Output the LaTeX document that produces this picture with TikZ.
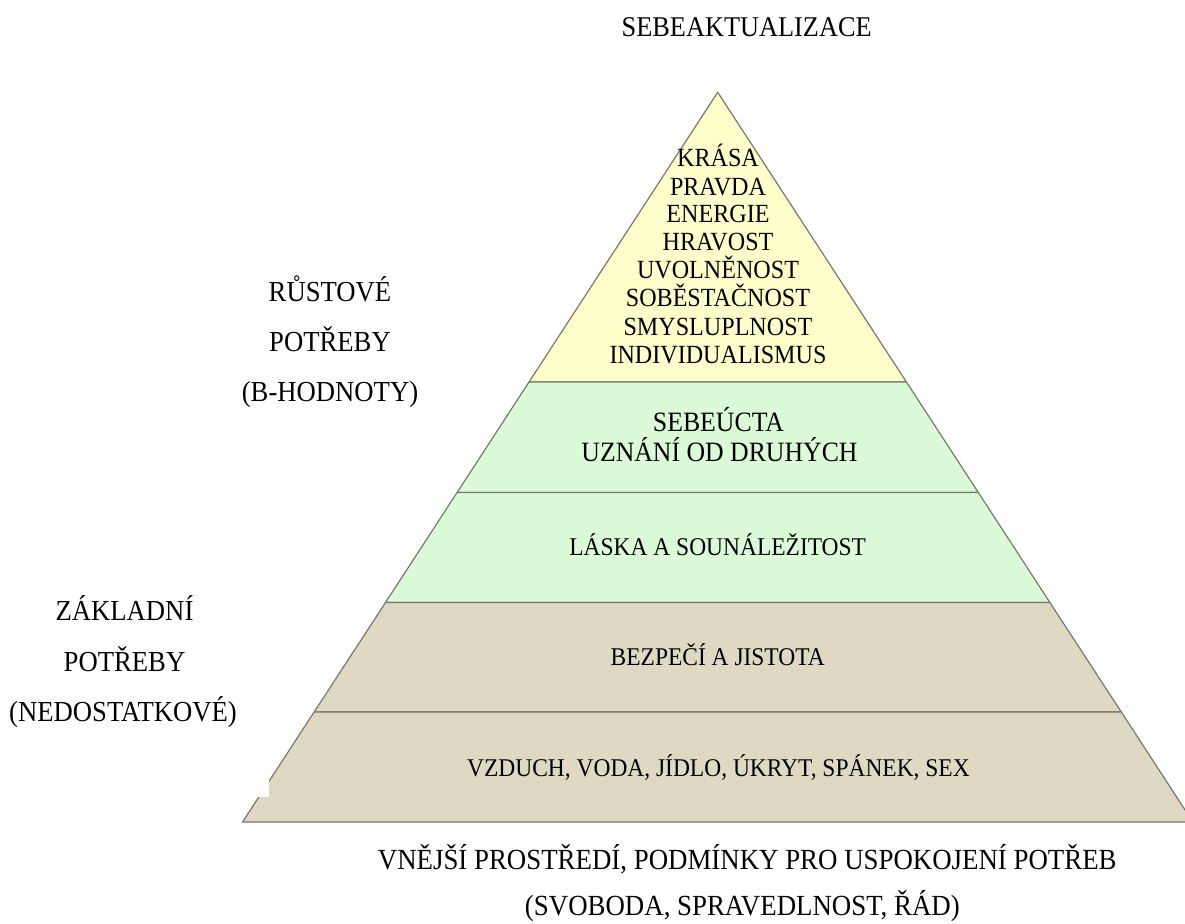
\documentclass[tikz,border=0pt]{standalone}
\usepackage{fontspec}
\setmainfont{Liberation Serif}[FakeStretch=0.92]
\definecolor{topfill}{RGB}{255,255,204}
\definecolor{midfill}{RGB}{218,250,216}
\definecolor{basefill}{RGB}{221,217,195}
\definecolor{edgegray}{RGB}{120,120,112}
\begin{document}
\begin{tikzpicture}[x=1pt,y=-1pt,
  band/.style={draw=edgegray, line width=1.2pt, line join=round},
  lbl/.style={anchor=base, inner sep=0pt, text=black},
  sidelbl/.style={lbl, font=\fontsize{29}{34}\selectfont},
  lvl/.style={lbl, font=\fontsize{25.5}{30}\selectfont},
  valuelbl/.style={lbl, font=\fontsize{26.2}{30}\selectfont},
]
\useasboundingbox (0,0) rectangle (1185,923);
\clip (0,0) rectangle (1185,923);

% corners of the pyramid levels
\coordinate (apex) at (717.7,92.3);
\coordinate (l1) at (529.0,382);   \coordinate (r1) at (906.4,382);
\coordinate (l2) at (457.1,492.5); \coordinate (r2) at (978.3,492.5);
\coordinate (l3) at (385.5,602.5); \coordinate (r3) at (1049.9,602.5);
\coordinate (l4) at (314.1,712);   \coordinate (r4) at (1121.3,712);
\coordinate (l5) at (242.5,822);   \coordinate (r5) at (1192.9,822);

% levels, from the top down
\filldraw[band, fill=topfill]  (apex) -- (r1) -- (l1) -- cycle;
\filldraw[band, fill=midfill]  (l1) -- (r1) -- (r2) -- (l2) -- cycle;
\filldraw[band, fill=midfill]  (l2) -- (r2) -- (r3) -- (l3) -- cycle;
\filldraw[band, fill=basefill] (l3) -- (r3) -- (r4) -- (l4) -- cycle;
\filldraw[band, fill=basefill] (l4) -- (r4) -- (r5) -- (l5) -- cycle;

% small white patch over the lower left edge
\fill[white] (230,780) rectangle (269.3,797);

% heading
\node[lbl, font=\fontsize{28.6}{34}\selectfont] (title) at (746.7,36.7) {SEBEAKTUALIZACE};

% values at the top
\node[valuelbl] (v1) at (718,166.7) {KRÁSA};
\node[valuelbl] (v2) at (718,195.0) {PRAVDA};
\node[valuelbl] (v3) at (718,222.9) {ENERGIE};
\node[valuelbl] (v4) at (718,250.9) {HRAVOST};
\node[valuelbl] (v5) at (718,278.7) {UVOLNĚNOST};
\node[valuelbl] (v6) at (718,306.8) {SOBĚSTAČNOST};
\node[valuelbl] (v7) at (718,335.0) {SMYSLUPLNOST};
\node[valuelbl] (v8) at (718,363.3) {INDIVIDUALISMUS};

% esteem level
\node[lbl, font=\fontsize{28}{32}\selectfont] (est1) at (718.5,431.7) {SEBEÚCTA};
\node[lbl, font=\fontsize{28}{32}\selectfont] (est2) at (719.5,461.7) {UZNÁNÍ OD DRUHÝCH};

% lower levels
\node[lvl] (love) at (717.7,555.5) {LÁSKA A SOUNÁLEŽITOST};
\node[lvl] (safe) at (717.7,665.5) {BEZPEČÍ A JISTOTA};
\node[lvl] (phys) at (718.5,776.5) {VZDUCH, VODA, JÍDLO, ÚKRYT, SPÁNEK, SEX};

% side labels
\node[sidelbl] (g1) at (330,301.7) {RŮSTOVÉ};
\node[sidelbl] (g2) at (330,351.7) {POTŘEBY};
\node[sidelbl] (g3) at (330,401.7) {(B-HODNOTY)};
\node[sidelbl] (d1) at (124.5,620) {ZÁKLADNÍ};
\node[sidelbl] (d2) at (124.5,671.2) {POTŘEBY};
\node[sidelbl] (d3) at (123,721.7) {(NEDOSTATKOVÉ)};

% environment below the base
\node[lbl, font=\fontsize{29.2}{34}\selectfont] (env1) at (747.3,869) {VNĚJŠÍ PROSTŘEDÍ, PODMÍNKY PRO USPOKOJENÍ POTŘEB};
\node[lbl, font=\fontsize{29.2}{34}\selectfont] (env2) at (742.4,915.5) {(SVOBODA, SPRAVEDLNOST, ŘÁD)};
\end{tikzpicture}
\end{document}
